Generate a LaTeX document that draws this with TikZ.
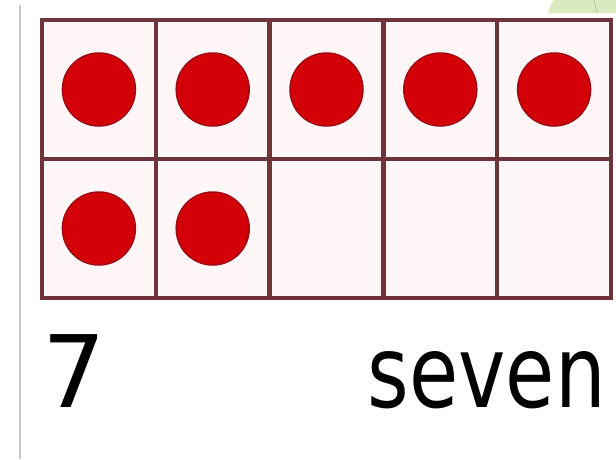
\documentclass[tikz,border=0pt]{standalone}
\usepackage{fontspec}
\setmainfont{DejaVu Sans}
\usepackage{graphicx}
\usetikzlibrary{positioning}
\definecolor{gridline}{RGB}{110,52,60}
\definecolor{cellbg}{RGB}{255,246,247}
\definecolor{dotred}{RGB}{212,0,8}
\definecolor{dotrim}{RGB}{160,10,20}
\definecolor{leafgreen}{RGB}{218,234,190}

\begin{document}
\begin{tikzpicture}[x=1pt, y=-1pt,
    cell/.style={rectangle, draw=gridline, fill=cellbg, line width=4.5pt, minimum width=113.8pt, minimum height=139pt, inner sep=0pt},
    counter/.style={circle, fill=dotred, draw=dotrim, line width=1.5pt, minimum size=73pt, inner sep=0pt},
    label/.style={inner sep=0pt, font=\fontsize{100}{100}\selectfont}]
    \useasboundingbox (0,0) rectangle (616,459);
    \fill[white] (0,0) rectangle (616,459);

    % page edge and corner
    \draw[line width=1.5pt, black!25!green!10!gray!45] (20,5) -- (20,459);
    \fill[leafgreen] (548,13) .. controls (550,6) .. (554,0) -- (616,0) -- (616,13) -- cycle;
    \draw[gray!60, line width=0.6pt] (594,0) -- (597,13);

    % ten frame
    \foreach \r in {1,2} {
        \foreach \c in {1,...,5} {
            \node[cell] (cell-\r-\c) at ({42+113.8*(\c-0.5)}, {20+139*(\r-0.5)}) {};
        }
    }

    % seven counters
    \foreach \c in {1,...,5}
        \node[counter] (dot-1-\c) at (cell-1-\c) {};
    \foreach \c in {1,2}
        \node[counter] (dot-2-\c) at (cell-2-\c) {};

    % number and word
    \node[label, anchor=base west] (numeral) at (42,407) {7};
    \node[label, anchor=base east] (word) at (606,407) {\scalebox{0.8}[1]{seven}};
\end{tikzpicture}
\end{document}
